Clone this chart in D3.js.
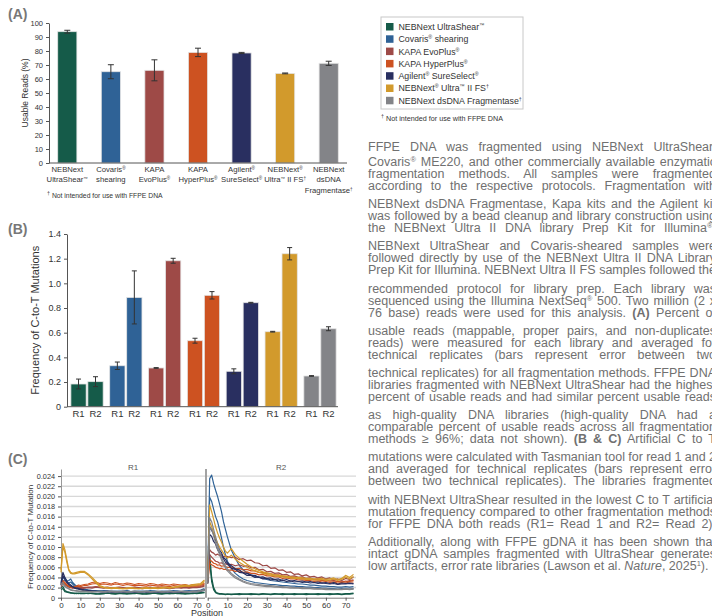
<!DOCTYPE html>
<html>
<head>
<meta charset="utf-8">
<script src="https://cdn.jsdelivr.net/npm/d3@7"></script>
<style>
body { margin: 0; background: #fff; }
svg { display: block; font-family: "Liberation Sans", Arial, sans-serif; }
</style>
</head>
<body>
<svg id="fig" width="712" height="616"></svg>
<script>
// ---- data ----
const methods = ["UltraShear", "Covaris", "KAPA EvoPlus", "KAPA HyperPlus", "Agilent", "Ultra II FS", "Fragmentase"];
const methodColors = ["#155b49", "#2f6296", "#9e4a47", "#cd5221", "#292f60", "#d29a2c", "#838488"];
const methodLabels = [
    ["NEBNext", "UltraShear^™^"], ["Covaris^®^", "shearing"], ["KAPA", "EvoPlus^®^"], ["KAPA", "HyperPlus^®^"],
    ["Agilent^®^", "SureSelect^®^"], ["NEBNext^®^", "Ultra^™^ II FS^†^"], ["NEBNext", "dsDNA", "Fragmentase^†^"]
];
const legendLabels = ["NEBNext UltraShear^™^", "Covaris^®^ shearing", "KAPA EvoPlus^®^", "KAPA HyperPlus^®^",
    "Agilent^®^ SureSelect^®^", "NEBNext^®^ Ultra^™^ II FS^†^", "NEBNext dsDNA Fragmentase^†^"];

// (A) usable reads %
const usableReads = [93.8, 65.2, 66.2, 79.0, 78.6, 64.0, 71.2];
const usableReadsErr = [1.0, 5.0, 7.5, 3.0, 0.4, 0.3, 1.5];

// (B) C-to-T frequency per read
const readNames = ["R1", "R2"];
const ctR1 = [0.184, 0.332, 0.314, 0.535, 0.287, 0.608, 0.249];
const ctR1Err = [0.04, 0.03, 0.003, 0.02, 0.02, 0.003, 0.003];
const ctR2 = [0.203, 0.886, 1.183, 0.903, 0.843, 1.240, 0.632];
const ctR2Err = [0.04, 0.215, 0.02, 0.03, 0.003, 0.05, 0.016];

// (C) per-position C-to-T frequency, units of 1e-4; two replicates per method
const positions = [0, 1, 2, 3, 4, 5, 6, 7, 8, 9, 10, 12, 14, 16, 18, 20, 22, 24, 26, 28, 30, 32, 34, 36, 38,
    40, 42, 44, 46, 48, 50, 52, 54, 56, 58, 60, 62, 64, 66, 68, 70, 72, 74];
const r1Lines = [
    [20,22,14,12,11,10,9,9,8,9,8, 8,9,8,7,8,8,9,8, 7,8,8,7,8,9,8,7, 8,8,9,8,7,8,8,9, 8,8,7,8,9,8,9,10],
    [16,18,12,11,10,9,9,8,9,8,9, 9,8,9,8,7,8,9,8, 8,9,8,9,8,8,9,8, 7,8,9,8,8,9,8,8, 9,8,9,8,8,9,10,11],
    [28,38,40,33,34,37,30,26,23,20,19, 17,15,14,14,13,14,13,12, 13,12,13,14,12,13,12,13, 12,14,13,12,13,12,13,14, 13,12,13,14,13,14,15,18],
    [24,33,35,30,29,31,27,23,21,19,17, 16,15,14,13,14,13,12,13, 12,13,12,13,12,12,13,12, 13,12,13,12,12,13,12,12, 13,12,13,12,13,13,14,16],
    [25,29,27,24,22,21,20,20,19,19,20, 20,21,21,22,21,20,21,19, 20,21,20,19,20,21,20,19, 20,21,19,20,21,20,19,20, 21,20,21,20,21,21,22,25],
    [22,27,25,23,21,20,19,19,18,19,18, 19,20,19,21,20,19,20,19, 19,20,19,18,19,20,19,18, 19,20,19,19,20,19,18,19, 20,19,20,19,20,20,21,23],
    [28,34,30,26,24,22,21,22,23,25,24, 26,27,30,31,28,30,29,27, 30,28,27,29,28,26,28,27, 26,28,27,25,27,26,25,27, 26,25,26,24,26,25,26,28],
    [25,31,28,24,22,21,20,21,22,23,22, 24,25,27,28,26,27,26,25, 27,26,24,26,25,24,25,24, 23,25,24,23,24,23,22,24, 23,22,23,22,23,23,24,27],
    [30,50,40,33,28,25,22,20,19,18,17, 15,14,13,13,12,12,13,12, 11,12,12,11,12,12,11,12, 12,11,12,12,11,12,12,11, 12,11,12,12,12,12,13,16],
    [26,44,36,30,26,23,21,19,18,17,16, 14,13,13,12,12,11,12,11, 11,12,11,11,12,11,11,12, 11,11,12,11,11,12,11,11, 12,11,11,12,12,12,13,15],
    [55,107,95,75,56,50,48,49,50,51,52, 52,47,40,32,24,21,20,19, 20,19,18,19,20,19,18,19, 20,19,20,19,20,21,20,21, 22,24,25,24,26,27,28,35],
    [50,100,90,70,54,48,47,47,48,49,50, 50,45,37,29,22,20,19,18, 19,18,18,18,19,18,18,18, 19,18,19,18,19,20,19,20, 21,22,23,23,24,25,26,32],
    [28,30,24,20,18,16,15,14,14,13,13, 13,12,12,12,13,12,12,13, 12,12,13,12,12,13,12,12, 13,12,12,13,12,12,13,12, 12,13,12,12,13,13,14,16],
    [25,27,22,19,17,15,14,14,13,13,12, 12,12,11,12,12,11,12,12, 11,12,12,11,12,12,11,12, 12,11,12,12,11,12,12,11, 12,12,11,12,12,12,13,15]
];
const r2Lines = [
    [60,85,40,20,12,9,8,8,7,7,7, 7,7,8,7,7,8,7,7, 8,7,7,8,7,8,7,7, 8,7,7,8,7,7,8,7, 7,8,7,8,7,8,8,9],
    [50,70,32,16,10,8,7,7,7,6,7, 6,7,6,7,7,6,7,6, 7,7,6,7,7,6,7,7, 6,7,7,6,7,7,6,7, 7,6,7,7,6,7,7,8],
    [40,235,242,225,212,200,185,170,150,135,120, 94,78,64,55,49,45,42,40, 38,36,34,33,32,31,30,29, 28,27,27,26,25,25,24,23, 23,22,22,21,21,22,21,22],
    [35,198,190,175,160,150,135,118,100,85,72, 58,48,42,37,34,32,30,29, 28,27,26,26,25,24,24,23, 23,22,22,21,21,20,20,19, 19,18,18,17,18,17,17,18],
    [40,95,90,88,84,86,83,85,80,82,81, 79,80,75,77,73,74,69,68, 63,64,58,59,54,55,50,51, 46,47,43,45,41,42,39,41, 37,39,35,37,34,38,36,41],
    [35,85,80,76,72,71,68,69,66,67,65, 66,63,65,62,63,59,60,55, 56,51,52,48,49,45,46,42, 43,40,41,38,39,36,37,34, 35,33,34,32,33,31,34,35],
    [30,75,72,68,67,64,65,62,63,61,60, 60,57,58,55,56,53,53,50, 50,47,47,45,45,42,42,40, 40,38,38,36,37,35,35,34, 34,33,33,32,31,33,32,34],
    [28,68,65,63,60,59,57,58,56,56,54, 55,52,53,50,51,48,48,45, 46,43,43,41,41,38,39,37, 37,35,35,34,34,32,33,31, 32,30,31,29,30,29,31,31],
    [30,140,133,126,113,106,94,89,79,76,69, 63,57,55,49,48,44,44,40, 41,38,39,36,37,34,36,33, 34,32,33,31,32,30,31,29, 30,28,30,27,29,28,29,28],
    [28,125,121,111,106,95,89,81,77,70,67, 58,56,50,49,44,44,40,41, 37,38,35,36,33,35,32,33, 31,32,30,31,29,30,28,29, 28,27,28,26,27,27,28,27],
    [40,183,170,155,140,128,118,110,100,92,88, 97,85,78,72,66,61,57,54, 51,49,47,45,44,43,42,41, 40,40,39,38,38,37,37,38, 36,37,39,36,38,44,40,46],
    [35,150,140,128,118,108,100,94,88,82,78, 84,76,70,65,60,56,53,50, 48,46,44,43,42,41,40,39, 38,38,37,36,36,35,35,36, 34,35,37,34,36,41,37,42],
    [30,158,150,135,120,105,92,80,70,63,57, 48,42,37,33,30,28,27,26, 25,24,24,23,22,22,21,21, 20,20,20,19,19,19,18,18, 18,17,17,17,17,18,17,18],
    [28,140,135,122,108,96,85,75,66,59,53, 45,39,35,31,28,26,25,24, 23,22,22,21,21,20,20,19, 19,19,18,18,18,17,17,17, 16,16,16,16,16,17,16,17]
];

const paragraphLines = [
    "FFPE DNA was fragmented using NEBNext UltraShear,",
    "Covaris^®^ ME220, and other commercially available enzymatic",
    "fragmentation methods. All samples were fragmented",
    "according to the respective protocols. Fragmentation with",
    "NEBNext dsDNA Fragmentase, Kapa kits and the Agilent kit",
    "was followed by a bead cleanup and library construction using",
    "the NEBNext Ultra II DNA library Prep Kit for Illumina^®^.",
    "NEBNext UltraShear and Covaris-sheared samples were",
    "followed directly by use of the NEBNext Ultra II DNA Library",
    "Prep Kit for Illumina. NEBNext Ultra II FS samples followed the",
    "recommended protocol for library prep. Each library was",
    "sequenced using the Illumina NextSeq^®^ 500. Two million (2 x",
    "76 base) reads were used for this analysis. **(A)** Percent of",
    "usable reads (mappable, proper pairs, and non-duplicates",
    "reads) were measured for each library and averaged for",
    "technical replicates (bars represent error between two",
    "technical replicates) for all fragmentation methods. FFPE DNA",
    "libraries fragmented with NEBNext UltraShear had the highest",
    "percent of usable reads and had similar percent usable reads",
    "as high-quality DNA libraries (high-quality DNA had a",
    "comparable percent of usable reads across all fragmentation",
    "methods ≥ 96%; data not shown). **(B & C)** Artificial C to T",
    "mutations were calculated with Tasmanian tool for read 1 and 2",
    "and averaged for technical replicates (bars represent error",
    "between two technical replicates). The libraries fragmented",
    "with NEBNext UltraShear resulted in the lowest C to T artificial",
    "mutation frequency compared to other fragmentation methods",
    "for FFPE DNA both reads (R1= Read 1 and R2= Read 2).",
    "Additionally, along with FFPE gDNA it has been shown that",
    "intact gDNA samples fragmented with UltraShear generates",
    "low artifacts, error rate libraries (Lawson et al. _Nature_, 2025^1^)."
];

let svg = d3.select("#fig");

// text with ^sup^, **bold**, _italic_ markup
function rich(t, str, size) {
    str.split(/(\^[^^]*\^|\*\*[^*]*\*\*|_[^_]*_)/).filter(s => s.length).forEach(p => {
        let ts = t.append("tspan");
        if (p[0] === "^") {
            ts.text(p.slice(1, -1)).attr("font-size", size * 0.6).attr("baseline-shift", "super");
        } else if (p.startsWith("**")) {
            ts.text(p.slice(2, -2)).attr("font-weight", "bold");
        } else if (p[0] === "_") {
            ts.text(p.slice(1, -1)).attr("font-style", "italic");
        } else {
            ts.text(p);
        }
    });
    return t;
}

function styleAxis(g, size) {
    g.select(".domain").attr("stroke", "#555");
    g.selectAll(".tick line").attr("stroke", "#555");
    g.selectAll(".tick text").attr("fill", "#333").attr("font-size", size).attr("font-family", null);
}

function panelTag(label, x, y) {
    svg.append("text").attr("x", x).attr("y", y)
        .attr("font-size", 14).attr("font-weight", "bold").attr("fill", "#777")
        .text(label);
}

// ---------------- (A) ----------------
panelTag("(A)", 8, 19);
let xA = d3.scaleBand().domain(methods).range([49, 347]).paddingInner(0.56).paddingOuter(0.2);
let yA = d3.scaleLinear().domain([0, 100]).range([163, 23]);

let gA = svg.append("g");
gA.selectAll("rect")
    .data(methods).enter()
    .append("rect")
    .attr("x", d => xA(d))
    .attr("y", (d, i) => yA(usableReads[i]))
    .attr("width", xA.bandwidth())
    .attr("height", (d, i) => yA(0) - yA(usableReads[i]))
    .attr("fill", (d, i) => methodColors[i])
    .attr("stroke", "#e4e4e4")
    .attr("stroke-width", 0.8);

function errorBar(g, cx, y0, y1, cap) {
    g.append("line").attr("x1", cx).attr("x2", cx).attr("y1", y0).attr("y2", y1).attr("stroke", "#333").attr("stroke-width", 1);
    [y0, y1].forEach(y => g.append("line").attr("x1", cx - cap).attr("x2", cx + cap).attr("y1", y).attr("y2", y)
        .attr("stroke", "#333").attr("stroke-width", 1));
}
methods.forEach((m, i) => {
    let cx = xA(m) + xA.bandwidth() / 2;
    errorBar(gA, cx, yA(usableReads[i] - usableReadsErr[i]), yA(usableReads[i] + usableReadsErr[i]), 3);
});

let axA = gA.append("g").attr("transform", "translate(49,0)")
    .call(d3.axisLeft(yA).tickValues(d3.range(0, 101, 10)).tickSize(3).tickSizeOuter(0));
styleAxis(axA, 7.5);
gA.append("line").attr("x1", 49).attr("x2", 347).attr("y1", yA(0)).attr("y2", yA(0)).attr("stroke", "#555");

gA.append("text")
    .attr("transform", "translate(28," + yA(50) + ") rotate(-90)")
    .attr("text-anchor", "middle").attr("font-size", 8.5).attr("fill", "#333")
    .text("Usable Reads (%)");

methods.forEach((m, i) => {
    methodLabels[i].forEach((ln, j) => {
        rich(gA.append("text")
            .attr("x", xA(m) + xA.bandwidth() / 2).attr("y", 171.5 + j * 10.8)
            .attr("text-anchor", "middle").attr("font-size", 7.7).attr("fill", "#333"), ln, 7.7);
    });
});
rich(gA.append("text").attr("x", 47).attr("y", 198).attr("font-size", 6.8).attr("fill", "#333"),
    "^†^ Not intended for use with FFPE DNA", 9);

// ---------------- legend ----------------
let gL = svg.append("g");
gL.append("rect").attr("x", 381).attr("y", 17).attr("width", 142).attr("height", 92)
    .attr("fill", "none").attr("stroke", "#c8c8c8");
legendLabels.forEach((lab, i) => {
    let cy = 26.7 + i * 12.3;
    gL.append("rect").attr("x", 386).attr("y", cy - 3.7).attr("width", 7.5).attr("height", 7.5)
        .attr("fill", methodColors[i]);
    rich(gL.append("text").attr("x", 398.5).attr("y", cy + 3.2).attr("font-size", 8.8).attr("fill", "#333"), lab, 8.8);
});
rich(gL.append("text").attr("x", 381).attr("y", 121).attr("font-size", 7.2).attr("fill", "#333"),
    "^†^ Not intended for use with FFPE DNA", 9);

// ---------------- (B) ----------------
panelTag("(B)", 8, 234);
let x0B = d3.scaleBand().domain(methods).range([67, 340]).paddingInner(0.169).paddingOuter(0.1);
let x1B = d3.scaleBand().domain(readNames).range([0, x0B.bandwidth()]).paddingInner(0.1);
let yB = d3.scaleLinear().domain([0, 1.4]).range([406.7, 234]);

let gB = svg.append("g");
methods.forEach((m, i) => {
    let vals = [ctR1[i], ctR2[i]], errs = [ctR1Err[i], ctR2Err[i]];
    readNames.forEach((r, j) => {
        let x = x0B(m) + x1B(r);
        gB.append("rect")
            .attr("x", x).attr("y", yB(vals[j]))
            .attr("width", x1B.bandwidth()).attr("height", yB(0) - yB(vals[j]))
            .attr("fill", methodColors[i]).attr("stroke", "#e4e4e4").attr("stroke-width", 0.8);
        errorBar(gB, x + x1B.bandwidth() / 2, yB(vals[j] - errs[j]), yB(vals[j] + errs[j]), 2.5);
        gB.append("text").attr("x", x + x1B.bandwidth() / 2).attr("y", 416.5)
            .attr("text-anchor", "middle").attr("font-size", 9.5).attr("fill", "#333").text(r);
    });
});
let axB = gB.append("g").attr("transform", "translate(67,0)")
    .call(d3.axisLeft(yB).tickValues(d3.range(0, 8).map(k => k * 0.2)).tickSize(3).tickSizeOuter(0)
        .tickFormat(d => d === 0 ? "0" : d3.format(".1f")(d)));
styleAxis(axB, 9);
gB.append("line").attr("x1", 67).attr("x2", 338).attr("y1", yB(0)).attr("y2", yB(0)).attr("stroke", "#555");
gB.append("text")
    .attr("transform", "translate(39," + yB(0.7) + ") rotate(-90)")
    .attr("text-anchor", "middle").attr("font-size", 11).attr("fill", "#333")
    .text("Frequency of C-to-T Mutations");

// ---------------- (C) ----------------
panelTag("(C)", 8, 464);
let yC = d3.scaleLinear().domain([0, 0.0254]).range([597.7, 469]);
let xC1 = d3.scaleLinear().domain([0, 74]).range([61, 204.5]);
let xC2 = d3.scaleLinear().domain([0, 74]).range([207.7, 353.5]);
let yTicksC = d3.range(0, 13).map(k => k * 0.002);

let gC = svg.append("g");
gC.selectAll(".grid")
    .data(yTicksC.slice(1)).enter()
    .append("line").attr("class", "grid")
    .attr("x1", 61).attr("x2", 356)
    .attr("y1", d => yC(d)).attr("y2", d => yC(d))
    .attr("stroke", "#d8d8d8").attr("stroke-width", 1.4);

let axC = gC.append("g").attr("transform", "translate(61,0)")
    .call(d3.axisLeft(yC).tickValues(yTicksC).tickSize(3).tickSizeOuter(0)
        .tickFormat(d => d === 0 ? "0" : d3.format(".3f")(d)));
styleAxis(axC, 7.3);
axC.select(".domain").attr("stroke", "#999");

[xC1, xC2].forEach(xs => {
    let ax = gC.append("g").attr("transform", "translate(0," + yC(0) + ")")
        .call(d3.axisBottom(xs).tickValues(d3.range(0, 71, 10)).tickSize(3).tickPadding(1.5).tickSizeOuter(0));
    styleAxis(ax, 8);
    ax.select(".domain").attr("stroke", "#777");
});

let lineFor = xs => d3.line()
    .x((d, i) => xs(positions[i]))
    .y(d => yC(d * 1e-4));
[[r1Lines, xC1], [r2Lines, xC2]].forEach(([set, xs]) => {
    gC.append("g").selectAll("path")
        .data(set).enter()
        .append("path")
        .attr("d", lineFor(xs))
        .attr("fill", "none")
        .attr("stroke", (d, i) => methodColors[Math.floor(i / 2)])
        .attr("stroke-width", 1.2)
        .attr("stroke-linejoin", "round");
});

gC.append("line").attr("x1", 206).attr("x2", 206).attr("y1", 469).attr("y2", yC(0))
    .attr("stroke", "#999").attr("stroke-width", 1.8);
gC.append("text").attr("x", 133).attr("y", 470).attr("text-anchor", "middle")
    .attr("font-size", 8).attr("fill", "#555").text("R1");
gC.append("text").attr("x", 281).attr("y", 470).attr("text-anchor", "middle")
    .attr("font-size", 8).attr("fill", "#555").text("R2");
gC.append("text")
    .attr("transform", "translate(33," + yC(0.012) + ") rotate(-90)")
    .attr("text-anchor", "middle").attr("font-size", 8).attr("fill", "#333")
    .text("Frequency of C-to-T Mutation");
gC.append("text").attr("x", 207).attr("y", 615.5).attr("text-anchor", "middle")
    .attr("font-size", 9).attr("fill", "#333").text("Position");

// ---------------- paragraph ----------------
let gP = svg.append("g");
const colWidth = 348;
paragraphLines.forEach((ln, i) => {
    let y = i === 0 ? 151 : 166 + Math.floor((i - 1) / 3) * 42.2 + ((i - 1) % 3) * 12;
    let t = rich(gP.append("text").attr("x", 368).attr("y", y)
        .attr("font-size", 12.5).attr("fill", "#707070"), ln, 12.5);
    if (i < paragraphLines.length - 1) {
        let len = t.node().getComputedTextLength();
        let spaces = (t.text().match(/ /g) || []).length;
        t.attr("word-spacing", (colWidth - len) / spaces);
    }
});
</script>
</body>
</html>
